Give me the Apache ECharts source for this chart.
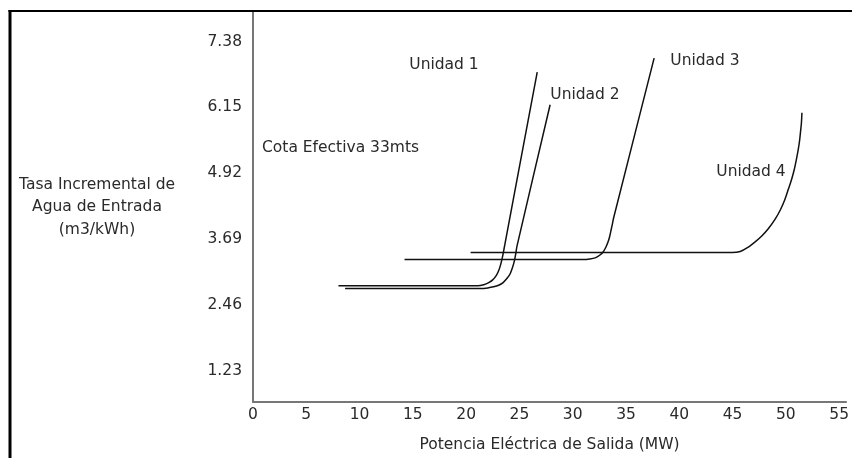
<!DOCTYPE html>
<html>
<head>
<meta charset="utf-8">
<script src="https://cdn.jsdelivr.net/npm/echarts@6/dist/echarts.min.js"></script>
<style>
html,body{margin:0;padding:0;background:#fff;}
#chart{width:852px;height:458px;}
</style>
</head>
<body>
<div id="chart"></div>
<script>
// ---- data (x: MW, y: m3/kWh) ----
const unidad1 = [[8.02,2.82],[20.45,2.82],[21.10,2.82],[21.65,2.84],[22.12,2.88],[22.49,2.93],[22.82,3.01],[23.05,3.10],[23.23,3.21],[23.39,3.34],[23.51,3.46],[23.63,3.59],[26.67,6.81]];
const unidad2 = [[8.64,2.77],[21.38,2.77],[22.03,2.78],[22.58,2.80],[23.05,2.83],[23.47,2.88],[23.84,2.96],[24.12,3.04],[24.35,3.16],[24.52,3.28],[24.65,3.41],[24.77,3.56],[27.88,6.20]];
const unidad3 = [[14.22,3.31],[31.01,3.31],[31.60,3.32],[32.11,3.34],[32.53,3.39],[32.85,3.45],[33.11,3.54],[33.32,3.64],[33.48,3.75],[33.61,3.87],[33.74,3.99],[33.83,4.08],[37.64,7.07]];
const unidad4 = [[20.42,3.44],[44.95,3.44],[45.72,3.46],[46.47,3.54],[47.12,3.64],[47.74,3.75],[48.33,3.88],[48.98,4.06],[49.49,4.24],[49.91,4.43],[50.23,4.62],[50.53,4.80],[50.79,4.99],[50.99,5.18],[51.16,5.36],[51.30,5.55],[51.39,5.72],[51.46,5.86],[51.51,6.05]];
const yTicks = [1.23, 2.46, 3.69, 4.92, 6.15, 7.38];
const xTicks = [0,5,10,15,20,25,30,35,40,45,50,55];
const seriesNames = ['Unidad 1','Unidad 2','Unidad 3','Unidad 4'];

const FONT = '"DejaVu Sans", "Liberation Sans", Arial, sans-serif';
const FS = 15.5;
const TXT = '#2a2a2a';
const chart = echarts.init(document.getElementById('chart'), null, {renderer:'canvas'});

function lineSeries(name, data){
  return {
    name, type:'line', data, showSymbol:false, symbol:'none',
    smooth:0.25,
    lineStyle:{color:'#111', width:1.5},
    silent:true, animation:false
  };
}
function label(text, x, y, align){
  return {type:'text', x, y, style:{text, font:FS+'px '+FONT, fill:TXT,
    textAlign:align||'center', align:align||'center', textVerticalAlign:'middle', verticalAlign:'middle', lineHeight:22.5}};
}

const option = {
  animation:false,
  backgroundColor:'#fff',
  grid:{left:253, top:11, right:0, bottom:55, containLabel:false},
  xAxis:{
    type:'value', min:0, max:55.65,
    axisLine:{show:true, lineStyle:{color:'#777', width:2}},
    axisTick:{show:false},
    splitLine:{show:false},
    axisLabel:{customValues:xTicks, color:TXT, fontFamily:FONT, fontSize:FS, margin:5,
      formatter: v => String(v)},
    name:'Potencia Eléctrica de Salida (MW)', nameLocation:'middle', nameGap:35,
    nameTextStyle:{color:TXT, fontFamily:FONT, fontSize:FS}
  },
  yAxis:{
    type:'value', min:0.65, max:7.95,
    axisLine:{show:true, onZero:false, lineStyle:{color:'#777', width:2}},
    axisTick:{show:false},
    splitLine:{show:false},
    axisLabel:{customValues:yTicks, color:TXT, fontFamily:FONT, fontSize:FS, margin:11,
      formatter: v => v.toFixed(2)}
  },
  series:[
    lineSeries(seriesNames[0], unidad1),
    lineSeries(seriesNames[1], unidad2),
    lineSeries(seriesNames[2], unidad3),
    lineSeries(seriesNames[3], unidad4)
  ],
  graphic:[
    {type:'line', shape:{x1:10, y1:10, x2:10, y2:458}, style:{stroke:'#000', lineWidth:3}, z:100},
    {type:'line', shape:{x1:8.5, y1:11, x2:852, y2:11}, style:{stroke:'#000', lineWidth:2}, z:100},
    label('Tasa Incremental de\nAgua de Entrada\n(m3/kWh)', 97, 207),
    label('Cota Efectiva 33mts', 262, 148, 'left'),
    label(seriesNames[0], 444, 65),
    label(seriesNames[1], 585, 95),
    label(seriesNames[2], 705, 61),
    label(seriesNames[3], 751, 172)
  ]
};
chart.setOption(option);
</script>
</body>
</html>
